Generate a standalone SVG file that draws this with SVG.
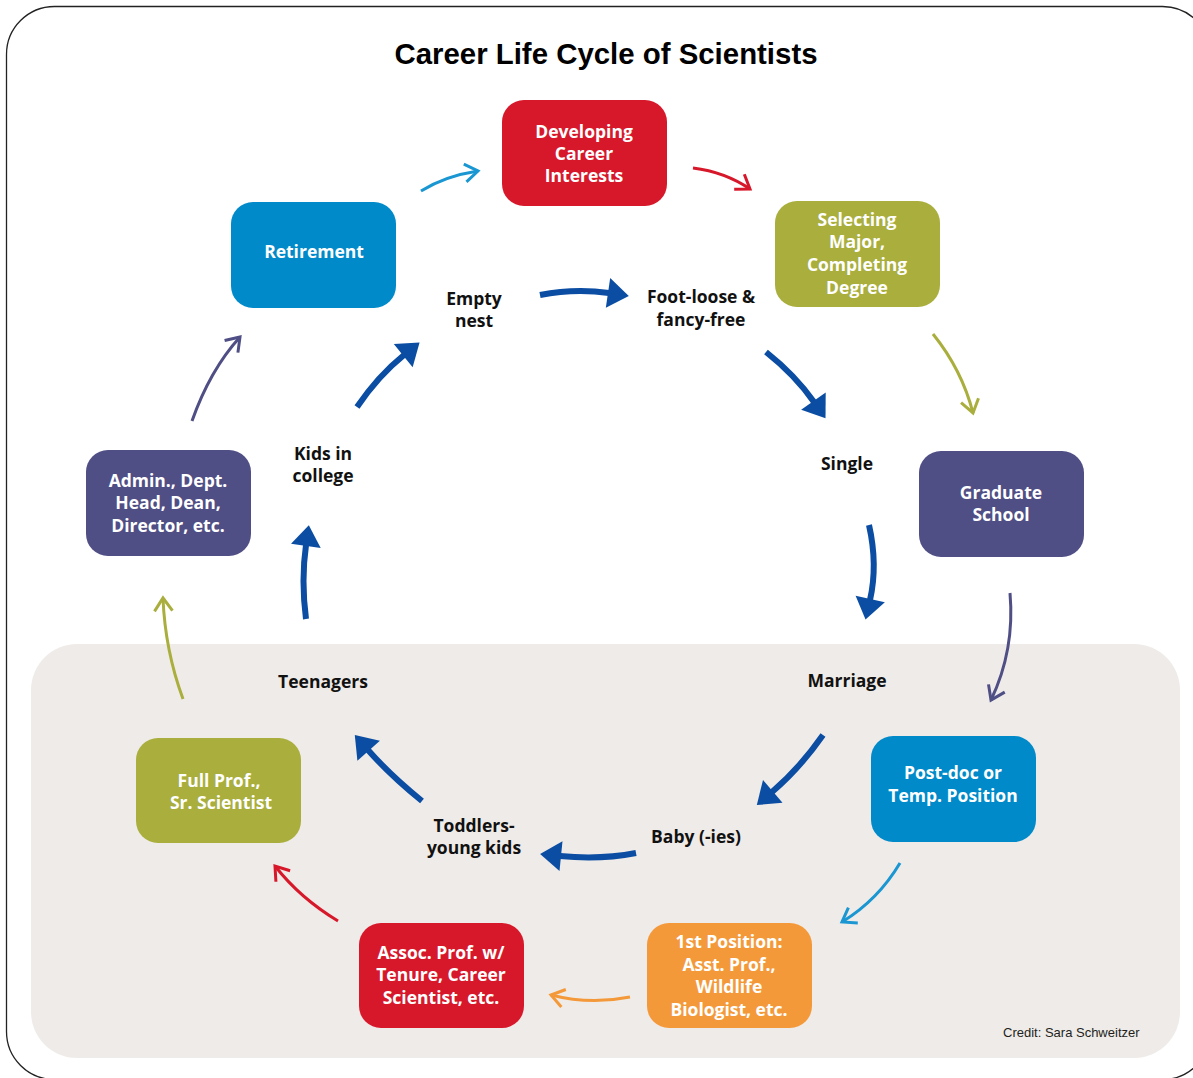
<svg xmlns="http://www.w3.org/2000/svg" width="1193" height="1078" viewBox="0 0 1193 1078">
<style>
.title{font-family:"Liberation Sans",Arial,sans-serif;font-weight:bold;font-size:29.4px;fill:#000;text-anchor:middle}
.nt{font-family:"Open Sans","Noto Sans",sans-serif;font-weight:bold;font-size:17.5px;fill:#fff;text-anchor:middle}
.lt{font-family:"Open Sans","Noto Sans",sans-serif;font-weight:bold;font-size:17.5px;fill:#111;text-anchor:middle}
.credit{font-family:"Liberation Sans",Arial,sans-serif;font-size:13px;fill:#231f20}
.thin{fill:none;stroke-width:3;stroke-linecap:butt}
.thick{fill:none;stroke:#0b4da2;stroke-width:6;marker-end:url(#hb)}
</style>
<defs>
<marker id="hb" markerUnits="userSpaceOnUse" viewBox="-2 -16 24 32" refX="0" refY="0" markerWidth="24" markerHeight="32" orient="auto" overflow="visible"><path d="M-1,-15 L20,0 L-1,15 Z" fill="#0b4da2"/></marker>
<marker id="ob" markerUnits="userSpaceOnUse" viewBox="-16 -12 20 24" refX="0" refY="0" markerWidth="20" markerHeight="24" orient="auto" overflow="visible"><path d="M-13,-9 L0,0 L-13,9" fill="none" stroke="#1a97d2" stroke-width="3"/></marker>
<marker id="or" markerUnits="userSpaceOnUse" viewBox="-16 -12 20 24" refX="0" refY="0" markerWidth="20" markerHeight="24" orient="auto" overflow="visible"><path d="M-13,-9 L0,0 L-13,9" fill="none" stroke="#d7182a" stroke-width="3"/></marker>
<marker id="oo" markerUnits="userSpaceOnUse" viewBox="-16 -12 20 24" refX="0" refY="0" markerWidth="20" markerHeight="24" orient="auto" overflow="visible"><path d="M-13,-9 L0,0 L-13,9" fill="none" stroke="#a9ae3c" stroke-width="3"/></marker>
<marker id="op" markerUnits="userSpaceOnUse" viewBox="-16 -12 20 24" refX="0" refY="0" markerWidth="20" markerHeight="24" orient="auto" overflow="visible"><path d="M-13,-9 L0,0 L-13,9" fill="none" stroke="#4f4e85" stroke-width="3"/></marker>
<marker id="og" markerUnits="userSpaceOnUse" viewBox="-16 -12 20 24" refX="0" refY="0" markerWidth="20" markerHeight="24" orient="auto" overflow="visible"><path d="M-13,-9 L0,0 L-13,9" fill="none" stroke="#f4993a" stroke-width="3"/></marker>
</defs>
<rect x="0" y="0" width="1193" height="1078" fill="#fff"/>
<rect x="6.5" y="6.5" width="1204" height="1073" rx="48" fill="#fff" stroke="#222" stroke-width="1.3"/>
<rect x="31" y="644" width="1149" height="414" rx="46" fill="#efebe8"/>
<text class="title" x="606" y="64">Career Life Cycle of Scientists</text>

<g id="connectors">
<path class="thin" stroke="#1a97d2" marker-end="url(#ob)" d="M421,191 Q445,176 478,171"/>
<path class="thin" stroke="#d7182a" marker-end="url(#or)" d="M693,168 Q725,172 750,189"/>
<path class="thin" stroke="#a9ae3c" marker-end="url(#oo)" d="M933,334 Q962,370 973,413"/>
<path class="thin" stroke="#4f4e85" marker-end="url(#op)" d="M1010,593 Q1015,650 991,700"/>
<path class="thin" stroke="#1a97d2" marker-end="url(#ob)" d="M900,863 Q878,900 842,922"/>
<path class="thin" stroke="#f4993a" marker-end="url(#og)" d="M630,997 Q590,1005 551,995"/>
<path class="thin" stroke="#d7182a" marker-end="url(#or)" d="M338,921 Q300,898 275,866"/>
<path class="thin" stroke="#a9ae3c" marker-end="url(#oo)" d="M183,699 Q165,650 163,598"/>
<path class="thin" stroke="#4f4e85" marker-end="url(#op)" d="M192,421 Q210,370 240,337"/>

<path class="thick" d="M540,295 Q575,288 609,293"/>
<path class="thick" d="M766,352 Q795,375 814,402"/>
<path class="thick" d="M869,525 Q878,565 870,600"/>
<path class="thick" d="M823,735 Q800,768 772,792"/>
<path class="thick" d="M636,853 Q600,860 560,856"/>
<path class="thick" d="M422,801 Q390,775 368,750"/>
<path class="thick" d="M306,619 Q301,580 306,545"/>
<path class="thick" d="M357,407 Q378,376 404,355"/>
</g>

<g id="developing"><rect x="502" y="100" width="165" height="106" rx="22" fill="#d7182a"/>
<text class="nt" x="584" y="138">Developing</text><text class="nt" x="584" y="160">Career</text><text class="nt" x="584" y="182">Interests</text></g>
<g id="selecting"><rect x="775" y="201" width="165" height="106" rx="22" fill="#a9ae3c"/>
<text class="nt" x="857" y="226">Selecting</text><text class="nt" x="857" y="248">Major,</text><text class="nt" x="857" y="271">Completing</text><text class="nt" x="857" y="294">Degree</text></g>
<g id="graduate"><rect x="919" y="451" width="165" height="106" rx="22" fill="#4f4e85"/>
<text class="nt" x="1001" y="499">Graduate</text><text class="nt" x="1001" y="521">School</text></g>
<g id="postdoc"><rect x="871" y="736" width="165" height="106" rx="22" fill="#008ac9"/>
<text class="nt" x="953" y="779">Post-doc or</text><text class="nt" x="953" y="802">Temp. Position</text></g>
<g id="firstpos"><rect x="647" y="923" width="165" height="105" rx="22" fill="#f4993a"/>
<text class="nt" x="729" y="948">1st Position:</text><text class="nt" x="729" y="971">Asst. Prof.,</text><text class="nt" x="729" y="993">Wildlife</text><text class="nt" x="729" y="1016">Biologist, etc.</text></g>
<g id="assoc"><rect x="359" y="923" width="165" height="105" rx="22" fill="#d7182a"/>
<text class="nt" x="441" y="959">Assoc. Prof. w/</text><text class="nt" x="441" y="981">Tenure, Career</text><text class="nt" x="441" y="1004">Scientist, etc.</text></g>
<g id="fullprof"><rect x="136" y="738" width="165" height="105" rx="22" fill="#a9ae3c"/>
<text class="nt" x="219" y="787">Full Prof.,</text><text class="nt" x="221" y="809">Sr. Scientist</text></g>
<g id="admin"><rect x="86" y="450" width="165" height="106" rx="22" fill="#4f4e85"/>
<text class="nt" x="168" y="487">Admin., Dept.</text><text class="nt" x="168" y="509">Head, Dean,</text><text class="nt" x="168" y="532">Director, etc.</text></g>
<g id="retirement"><rect x="231" y="202" width="165" height="106" rx="22" fill="#008ac9"/>
<text class="nt" x="314" y="258">Retirement</text></g>

<g id="life-labels">
<text class="lt" x="474" y="305">Empty</text><text class="lt" x="474" y="327">nest</text>
<text class="lt" x="701" y="303">Foot-loose &amp;</text><text class="lt" x="701" y="326">fancy-free</text>
<text class="lt" x="847" y="470">Single</text>
<text class="lt" x="847" y="687">Marriage</text>
<text class="lt" x="696" y="843">Baby (-ies)</text>
<text class="lt" x="474" y="832">Toddlers-</text><text class="lt" x="474" y="854">young kids</text>
<text class="lt" x="323" y="688">Teenagers</text>
<text class="lt" x="323" y="460">Kids in</text><text class="lt" x="323" y="482">college</text>
</g>
<text class="credit" x="1003" y="1037">Credit: Sara Schweitzer</text>
</svg>
